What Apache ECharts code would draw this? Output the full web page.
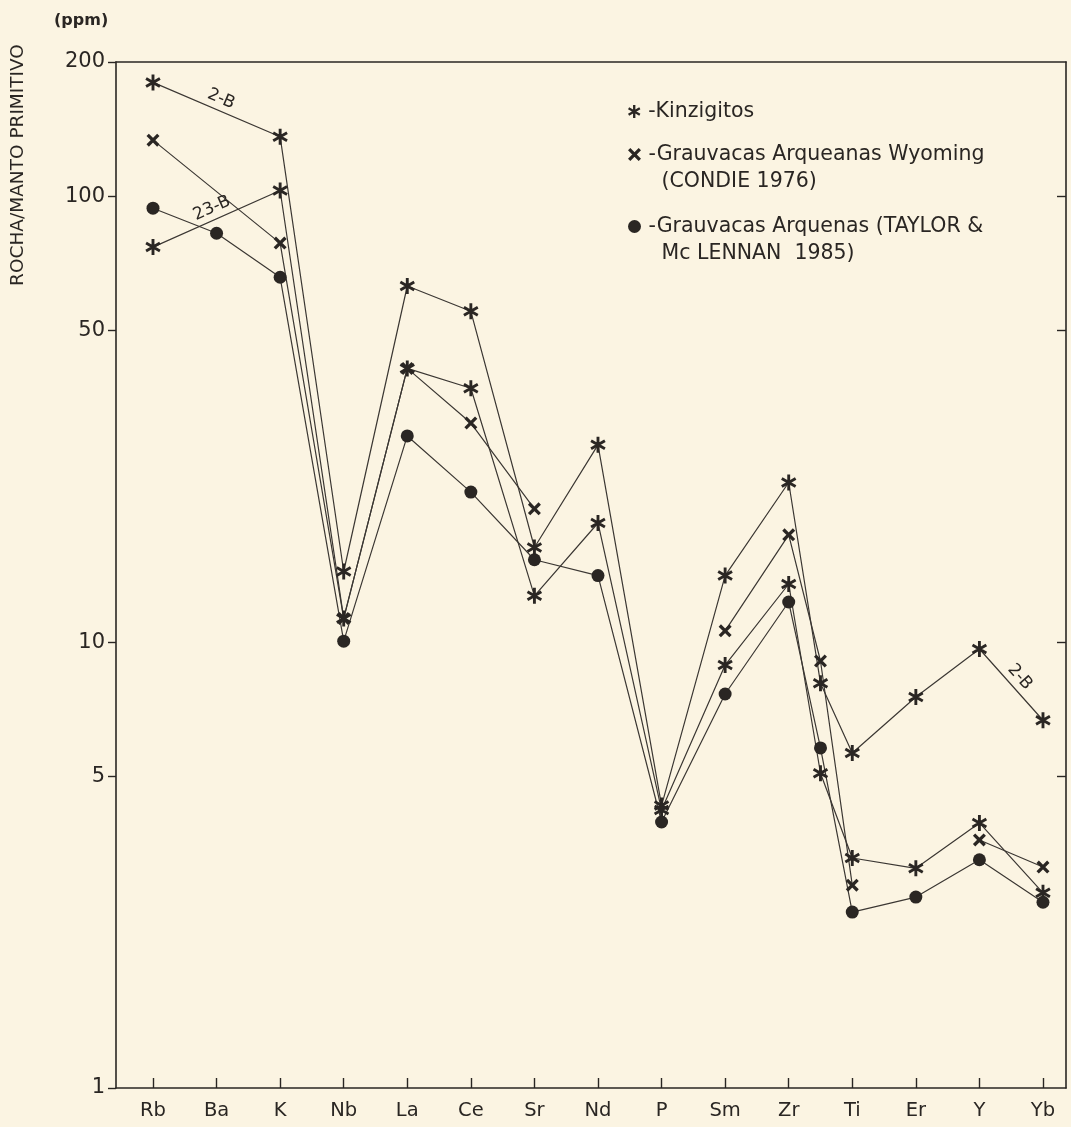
<!DOCTYPE html>
<html>
<head>
<meta charset="utf-8">
<script src="https://cdn.jsdelivr.net/npm/echarts@6/dist/echarts.min.js"></script>
<style>
  html, body { margin: 0; padding: 0; background: #fbf4e2; }
  #chart { width: 1071px; height: 1127px; }
</style>
</head>
<body>
<div id="chart"></div>
<script>
// ---------------- DATA ----------------
// Elements along the x axis ('' = unlabeled position between Zr and Ti)
const elements   = ['Rb','Ba','K','Nb','La','Ce','Sr','Nd','P','Sm','Zr','','Ti','Er','Y','Yb'];
const elementPos = [0, 1, 2, 3, 4, 5, 6, 7, 8, 9, 10, 10.5, 11, 12, 13, 14];
const tickLabels = ['Rb','Ba','K','Nb','La','Ce','Sr','Nd','P','Sm','Zr','Ti','Er','Y','Yb'];
const yTicks     = [1, 5, 10, 50, 100, 200];
const yRightTicks = [5, 10, 50, 100];

// Kinzigitos, sample 2-B (asterisks)
const kinz2B  = [180, null, 136, 14.4, 62.9, 55.2, 16.3, 27.7, 4.3, 14.1, 22.8, 8.09, 5.64, 7.53, 9.65, 6.68];
// Kinzigitos, sample 23-B (asterisks)
const kinz23B = [76.9, null, 103, 11.3, 41.1, 37.1, 12.7, 18.5, 4.2, 8.88, 13.5, 5.08, 3.28, 3.11, 3.93, 2.74];
// Grauvacas Arqueanas Wyoming (Condie 1976) (x)
const wyoming = [133.6, null, 78.5, 11.3, 41.1, 31.0, 19.9, null, null, 10.6, 17.4, 9.07, 2.85, null, 3.60, 3.13];
const wyomingBreaks = ['Nd', 'Er'];   // line interrupted at these elements
// Grauvacas Arqueanas (Taylor & McLennan 1985) (dots)
const taylor  = [94, 82.6, 65.8, 10.05, 29.0, 21.7, 15.3, 14.1, 3.95, 7.65, 12.3, 5.79, 2.48, 2.68, 3.25, 2.61];

// ---------------- STYLE ----------------
const INK = '#2a2623';
const LINE = '#3b3733';
const FONT = '"DejaVu Sans", sans-serif';

function barsPath(angles, L, w) {
  return 'path://' + angles.map(a => {
    const r = a * Math.PI / 180, dx = Math.cos(r), dy = Math.sin(r), nx = -dy, ny = dx;
    const pts = [[L*dx + w*nx, L*dy + w*ny], [L*dx - w*nx, L*dy - w*ny],
                 [-L*dx - w*nx, -L*dy - w*ny], [-L*dx + w*nx, -L*dy + w*ny]];
    return 'M' + pts.map(p => p[0].toFixed(2) + ',' + p[1].toFixed(2)).join('L') + 'Z';
  }).join('');
}
const ASTERISK = barsPath([90, 30, 150], 10, 1.8);
const XMARK = barsPath([45, 135], 10, 2.2);

function buildData(values, breaks) {
  const out = [];
  values.forEach((v, i) => {
    if (v != null) out.push([elementPos[i], v]);
    else if (breaks.indexOf(elements[i]) >= 0) out.push([elementPos[i], '-']);
  });
  return out;
}
function idx(name) { return elements.indexOf(name); }
function pt(values, name) { return [elementPos[idx(name)], values[idx(name)]]; }

function lineSeries(name, values, breaks, symbol, size, extra) {
  return Object.assign({
    type: 'line', name: name,
    data: buildData(values, breaks),
    symbol: symbol, symbolSize: size, symbolKeepAspect: true,
    connectNulls: false,
    lineStyle: { color: LINE, width: 1.2 },
    itemStyle: { color: INK },
    emphasis: { disabled: true },
    animation: false
  }, extra || {});
}

function segMarks(text, values, pairs) {
  return {
    silent: true, symbol: 'none', animation: false,
    lineStyle: { color: 'rgba(0,0,0,0)', width: 1 },
    label: { show: true, position: 'middle', formatter: text, fontFamily: FONT, fontSize: 17, color: INK, distance: 3 },
    emphasis: { disabled: true },
    data: pairs.map(p => [{ coord: pt(values, p[0]) }, { coord: pt(values, p[1]) }])
  };
}

const chart = echarts.init(document.getElementById('chart'), null, { renderer: 'canvas' });

const legendText = {
  'Kinzigitos': '-Kinzigitos',
  'Wyoming': '\n-Grauvacas Arqueanas Wyoming\n  (CONDIE 1976)',
  'Taylor': '\n-Grauvacas Arquenas (TAYLOR &\n  Mc LENNAN  1985)'
};
function legendFor(name, icon, top) {
  return {
    show: true, orient: 'vertical', left: 628, top: top, padding: 0,
    itemWidth: 18, itemHeight: 13, selectedMode: false,
    data: [{ name: name, icon: icon, itemStyle: { color: INK, borderWidth: 0 } }],
    formatter: n => legendText[n],
    textStyle: { fontFamily: FONT, fontSize: 20.5, color: INK, lineHeight: 27 }
  };
}

const option = {
  backgroundColor: '#fbf4e2',
  animation: false,
  title: {
    text: '(ppm)', left: 54, top: 13, padding: 0,
    textStyle: { fontFamily: FONT, fontSize: 16, fontWeight: 'bold', color: INK }
  },
  grid: { left: 116, right: 5, top: 62, bottom: 39, containLabel: false },
  legend: [
    legendFor('Kinzigitos', ASTERISK, 98),
    legendFor('Wyoming', XMARK, 114),
    legendFor('Taylor', 'circle', 186)
  ],
  xAxis: [{
    type: 'value', position: 'bottom',
    min: -0.582, max: 14.362,
    splitLine: { show: false },
    axisLine: { show: true, onZero: false, lineStyle: { color: INK, width: 1.6 } },
    axisTick: { show: true, inside: true, length: 10, lineStyle: { color: INK, width: 1.4 },
                customValues: tickLabels.map((_, i) => i) },
    axisLabel: { show: true, margin: 13, fontFamily: FONT, fontSize: 19.5, color: INK,
                 customValues: tickLabels.map((_, i) => i),
                 formatter: v => tickLabels[Math.round(v)] }
  }, {
    type: 'value', position: 'top',
    min: -0.582, max: 14.362,
    splitLine: { show: false },
    axisLine: { show: true, onZero: false, lineStyle: { color: INK, width: 1.6 } },
    axisTick: { show: false }, axisLabel: { show: false }
  }],
  yAxis: [{
    type: 'log', logBase: 10, min: 1, max: 200, position: 'left',
    splitLine: { show: false },
    axisLine: { show: true, onZero: false, lineStyle: { color: INK, width: 1.6 } },
    axisTick: { show: true, inside: false, length: 8, lineStyle: { color: INK, width: 1.4 },
                customValues: yTicks },
    axisLabel: { show: true, margin: 11, fontFamily: FONT, fontSize: 21, color: INK,
                 customValues: yTicks, formatter: v => String(Math.round(v)) }
  }, {
    type: 'log', logBase: 10, min: 1, max: 200, position: 'right',
    splitLine: { show: false },
    axisLine: { show: true, onZero: false, lineStyle: { color: INK, width: 1.6 } },
    axisTick: { show: true, inside: true, length: 9, lineStyle: { color: INK, width: 1.4 },
                customValues: yRightTicks },
    axisLabel: { show: false }
  }],
  graphic: [{
    type: 'text', x: 18, y: 165, rotation: Math.PI / 2,
    style: { text: 'ROCHA/MANTO PRIMITIVO', font: '18.5px ' + FONT, fill: INK,
             align: 'center', verticalAlign: 'middle' }
  }],
  series: [
    lineSeries('Kinzigitos', kinz2B, [], ASTERISK, 16, {
      markLine: segMarks('2-B', kinz2B, [['Rb', 'K'], ['Y', 'Yb']])
    }),
    lineSeries('Kinzigitos', kinz23B, [], ASTERISK, 16, {
      markLine: segMarks('23-B', kinz23B, [['Rb', 'K']])
    }),
    lineSeries('Wyoming', wyoming, wyomingBreaks, XMARK, 13),
    lineSeries('Taylor', taylor, [], 'circle', 13)
  ]
};
chart.setOption(option);
</script>
</body>
</html>
